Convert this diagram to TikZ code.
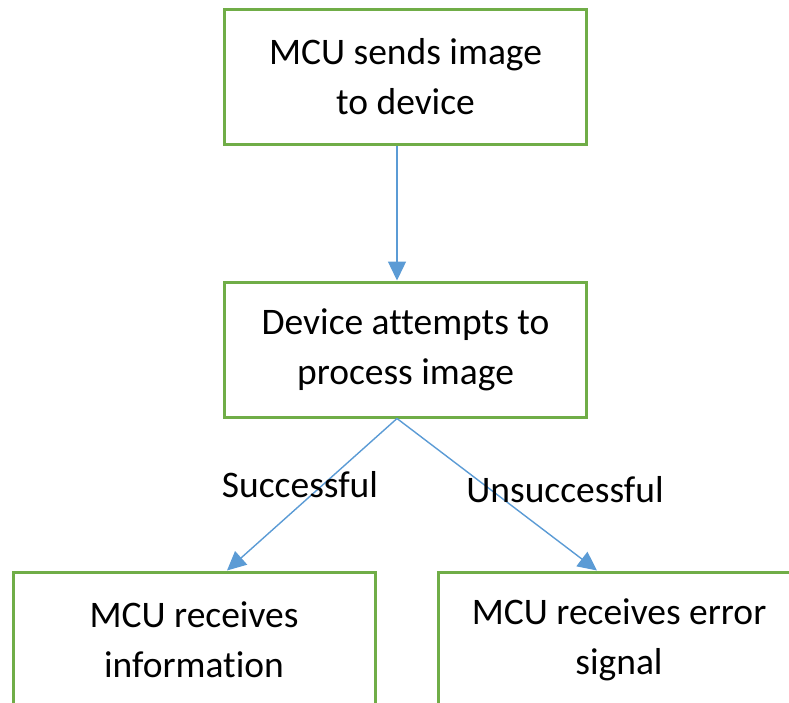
\documentclass[tikz,border=0pt]{standalone}
\usepackage{fontspec}
\setmainfont{Carlito}[Ligatures=NoCommon]
\usetikzlibrary{arrows.meta}
\definecolor{boxgreen}{HTML}{70AD47}
\definecolor{arrowblue}{HTML}{5B9BD5}
\begin{document}
\begin{tikzpicture}[x=1pt,y=-1pt,
  box/.style={draw=boxgreen, line width=3pt, rectangle, minimum width=362pt, minimum height=135pt,
    align=center, inner sep=0pt, font=\fontsize{37.5}{50}\selectfont},
  conn/.style={draw=arrowblue, line width=1.4pt, -{Triangle[width=18pt,length=19pt]}},
  lbl/.style={font=\fontsize{37.5}{50}\selectfont, anchor=base, inner sep=0pt}]
\useasboundingbox (0,0) rectangle (789,702);
\node[box] (top) at (405.5,77) {MCU sends image\\to device};
\node[box] (mid) at (405.5,349.5) {Device attempts to\\process image};
\node[box] (left) at (194,639.5) {MCU receives\\information};
\node[box] (right) at (619,639.5) {MCU receives error\\signal};
\draw[conn] ([xshift=-8.5pt]top.south) -- ([xshift=-8.5pt]mid.north);
\draw[conn] ([xshift=-8.5pt]mid.south) -- ([xshift=33pt]left.north);
\draw[conn] ([xshift=-8.5pt]mid.south) -- ([xshift=-22pt]right.north);
\node[lbl] (succ) at (300,497) {Successful};
\node[lbl] (unsucc) at (565,502) {Unsuccessful};
\end{tikzpicture}
\end{document}
